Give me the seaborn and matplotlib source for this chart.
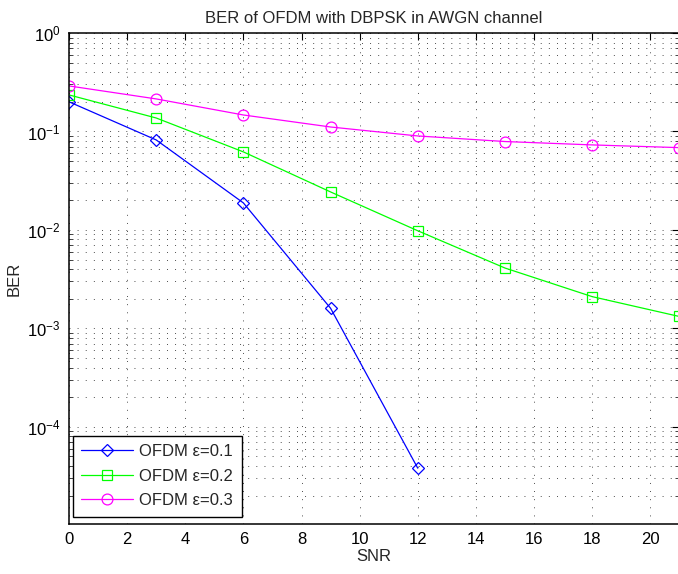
import numpy as np
import pandas as pd
import matplotlib
matplotlib.use("Agg")
import matplotlib.pyplot as plt
import seaborn as sns
from matplotlib.ticker import LogLocator, NullFormatter, FixedLocator

# SNR points (dB)
snr_01 = [0, 3, 6, 9, 12]
snr_all = [0, 3, 6, 9, 12, 15, 18, 21]

# Bit error rates for each frequency offset
ber_eps01 = [0.20, 0.082, 0.0188, 0.0016, 3.8e-5]
ber_eps02 = [0.235, 0.137, 0.062, 0.0243, 0.0098, 0.0041, 0.0021, 0.00132]
ber_eps03 = [0.29, 0.214, 0.147, 0.111, 0.090, 0.079, 0.073, 0.0685]

labels = ["OFDM \u03b5=0.1", "OFDM \u03b5=0.2", "OFDM \u03b5=0.3"]
colors = ["#0000ff", "#00ff00", "#ff00ff"]
marker_shapes = ["D", "s", "o"]
marker_sizes = [6.3, 7.6, 7.8]

df = pd.concat([
    pd.DataFrame({"SNR": snr_01, "BER": ber_eps01, "curve": labels[0]}),
    pd.DataFrame({"SNR": snr_all, "BER": ber_eps02, "curve": labels[1]}),
    pd.DataFrame({"SNR": snr_all, "BER": ber_eps03, "curve": labels[2]}),
], ignore_index=True)

sns.set_style("white")
plt.rcParams["font.family"] = ["Liberation Sans", "DejaVu Sans"]
plt.rcParams["mathtext.fontset"] = "custom"
plt.rcParams["mathtext.rm"] = "Liberation Sans"
plt.rcParams["mathtext.it"] = "Liberation Sans"

fig = plt.figure(figsize=(6.78, 5.74), dpi=100)
ax = fig.add_axes([69 / 678, 1 - 524 / 574, 609 / 678 + 0.002, (524 - 33) / 574])

sns.lineplot(
    data=df, x="SNR", y="BER", hue="curve", style="curve",
    hue_order=labels, style_order=labels,
    palette=dict(zip(labels, colors)),
    markers=dict(zip(labels, marker_shapes)),
    dashes=False, linewidth=0.9, legend=False, ax=ax,
    clip_on=True,
)

for line, ms in zip(ax.lines, marker_sizes):
    c = line.get_color()
    line.set_markeredgecolor(c)
    line.set_markerfacecolor("none")
    line.set_markeredgewidth(0.9)
    line.set_markersize(ms)

ax.set_yscale("log")
ax.set_xlim(0, 21)
ax.set_ylim(1.03e-5, 1)
ax.xaxis.set_major_locator(FixedLocator(np.arange(0, 21, 2)))
ax.yaxis.set_major_locator(LogLocator(base=10, numticks=10))
ax.yaxis.set_minor_locator(LogLocator(base=10, subs=np.arange(2, 10), numticks=20))
ax.yaxis.set_minor_formatter(NullFormatter())

grid_kw = dict(color="0.2", linestyle=(0, (1.0, 8.0)), linewidth=0.65)
ax.grid(True, which="major", axis="x", **grid_kw)
ax.grid(True, which="both", axis="y", **grid_kw)
ax.set_axisbelow(True)

for s in ax.spines.values():
    s.set_color("black")
    s.set_linewidth(1.1)

ax.tick_params(axis="both", which="major", direction="in", length=5, width=0.8,
               top=True, right=True, labelsize=12, colors="black", pad=6)
ax.tick_params(axis="y", which="minor", direction="in", length=3, width=0.6,
               left=True, right=True)

ax.set_title("BER of OFDM with DBPSK in AWGN channel", fontsize=12, pad=7)
ax.set_xlabel("SNR", fontsize=12, labelpad=1)
ax.set_ylabel("BER", fontsize=12, labelpad=4)

leg = ax.legend(
    handles=ax.lines[:3], labels=labels, loc="lower left",
    bbox_to_anchor=(0.006, 0.015), borderaxespad=0, fontsize=12,
    frameon=True, fancybox=False, framealpha=1, edgecolor="black",
    handlelength=3.1, handletextpad=0.4, labelspacing=0.58,
    borderpad=0.5,
)
leg.get_frame().set_linewidth(1.0)

fig.savefig("out.png", dpi=100)
